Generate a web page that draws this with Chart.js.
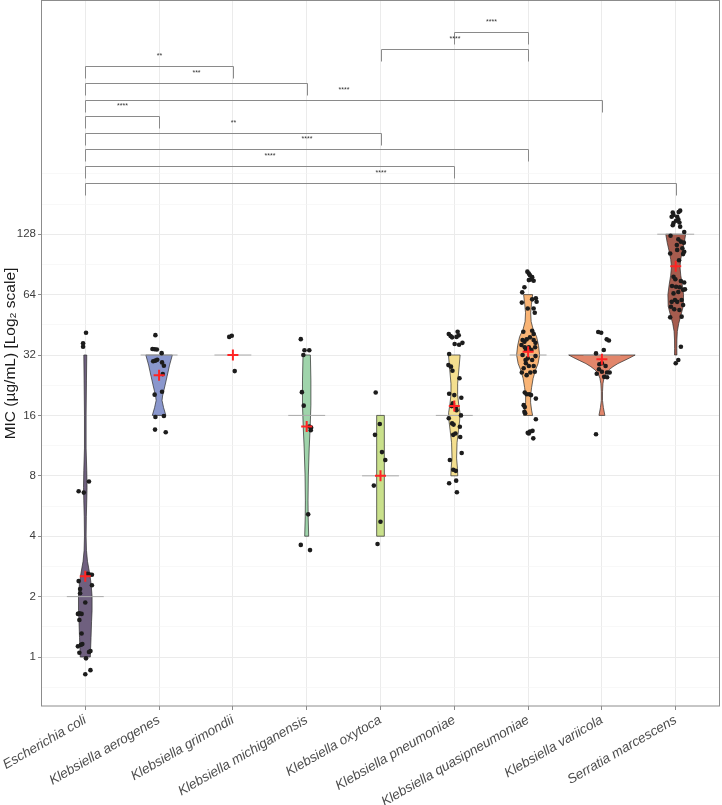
<!DOCTYPE html>
<html>
<head>
<meta charset="utf-8">
<script src="https://cdn.jsdelivr.net/npm/chart.js@4.4.0/dist/chart.umd.min.js"></script>
<style>
  html, body { margin: 0; padding: 0; background: #fff; }
  #wrap { width: 722px; height: 805px; }
</style>
</head>
<body>
<div id="wrap"><canvas id="mic" width="722" height="805"></canvas></div>
<script>
// categories and summary values
const species = ['Escherichia coli', 'Klebsiella aerogenes', 'Klebsiella grimondii', 'Klebsiella michiganensis',
  'Klebsiella oxytoca', 'Klebsiella pneumoniae', 'Klebsiella quasipneumoniae', 'Klebsiella variicola', 'Serratia marcescens'];
const medians = [2, 32, 32, 16, 8, 16, 32, 32, 128];
const means = [2.53, 25.4, 32, 14.1, 8.0, 17.8, 33.2, 30.5, 88.6];
const yTicks = [1, 2, 4, 8, 16, 32, 64, 128];
const violinColors = ['#6f607f', '#8a97cd', '#cccccc', '#9fd4ab', '#c9e08b', '#f4df8f', '#f9b475', '#e2866b', '#a65c4e'];

// isolates: [jitter (category units), MIC]
const ptsEcoli = [[0.01,41.3],[-0.03,36.6],[-0.03,35.2],[0.05,7.5],[-0.09,6.7],[-0.02,6.6],[0.03,2.6],[0.06,2.58],
  [0.09,2.57],[-0.09,2.39],[0.09,2.28],[-0.07,2.18],[-0.07,2.08],[0.0,1.87],[-0.10,1.64],[-0.08,1.65],[-0.05,1.64],
  [-0.08,1.53],[-0.05,1.31],[-0.04,1.16],[-0.06,1.15],[-0.10,1.13],[-0.08,1.05],[0.05,1.06],[0.07,1.07],[0.01,0.985],
  [0.07,0.86],[0.0,0.82]];
const ptsAerogenes = [[-0.05,40.2],[-0.09,34.3],[-0.06,34.2],[-0.03,34.1],[0.035,32.7],[-0.05,30],[-0.025,30.3],
  [-0.08,29.8],[0.04,29.4],[0.065,28.3],[0.05,25.7],[-0.06,20.3],[0.04,21],[-0.05,15.7],[0.065,15.9],[-0.055,13.6],[0.09,13.2]];
const ptsGrimondii = [[-0.05,39.4],[-0.015,39.9],[0.025,26.6]];
const ptsMichiganensis = [[-0.08,38.4],[-0.03,33.8],[0.035,33.8],[-0.045,32],[-0.065,20.9],[-0.04,17.9],[0.035,14.1],
  [0.06,13.9],[0.055,13.5],[0.02,5.14],[-0.08,3.62],[0.045,3.41]];
const ptsOxytoca = [[-0.065,20.8],[-0.01,14.5],[-0.075,12.8],[0.02,10.5],[0.065,9.6],[-0.09,7.15],[0,4.72],[-0.04,3.66]];
const ptsPneumoniae = [[-0.075,40.7],[-0.05,39.8],[-0.03,39.2],[0.045,41.8],[0.06,40.1],[0.03,39.4],[0.005,36.3],[0.065,36],
  [0.11,36.8],[-0.07,32.4],[-0.08,28.5],[-0.045,28],[-0.025,26.7],[0.07,24.5],[0.095,19.6],[0,20.2],[-0.02,18.4],[0.02,17.6],
  [0.09,16],[-0.075,15.5],[-0.03,14.6],[-0.01,14.4],[-0.015,12.8],[0.015,13],[0.075,14.05],[0.08,12.5],[0.1,10.4],[-0.06,9.6],
  [-0.015,8.57],[0.02,8.47],[-0.07,7.35],[0.025,7.57],[0.035,6.62],[-0.07,20.5],[-0.035,17.8],[0.03,17.0]];
const ptsQuasipneumoniae = [[-0.01,83.3],[0.01,81.6],[0.025,79.9],[0.055,78.2],[0.035,76.1],[0.075,75.1],[0.01,75.6],
  [-0.05,69.6],[-0.08,65.7],[-0.085,58.4],[0.055,60.6],[0.105,61.3],[0.115,59],[-0.005,54.6],[0.075,54.6],[0.09,52],
  [-0.065,41.8],[0.055,42.3],[0.075,40.7],[-0.075,38],[-0.05,37.3],[-0.02,38.3],[0.025,39.2],[0.075,38],[0.1,36.8],
  [-0.09,35.9],[-0.045,35],[-0.03,33.9],[0.01,35],[0.045,33.9],[0.095,35],[-0.075,32],[-0.005,30.8],[0.055,30.2],[0.1,31.6],
  [-0.03,29.1],[0.01,28.2],[-0.06,27.5],[0.03,26.2],[0.075,28.2],[-0.085,26.2],[-0.02,25.4],[0.09,26.4],[-0.035,30.2],
  [-0.045,20.8],[-0.02,20.4],[0.015,20.4],[0.04,20.2],[0.105,19.4],[-0.06,18],[-0.045,17.6],[-0.05,16.7],[-0.04,16.4],
  [0.105,15.3],[-0.005,13.1],[0.025,13.3],[0.06,13.4],[0.01,13.0],[0.07,12.3]];
const ptsVariicola = [[-0.05,41.7],[-0.01,41.3],[0.065,38.3],[0.095,37.8],[0.025,33.9],[-0.08,32.6],[-0.035,28.8],[0,29.1],
  [0.05,28.2],[-0.04,27.2],[-0.07,25.8],[0.105,26.2],[0.07,26.2],[0.03,24.9],[0.07,24.8],[-0.08,12.9],[0,26.4]];
const ptsSerratia = [[0.06,167.7],[0.04,165],[-0.04,164],[-0.03,159.6],[-0.055,156.5],[0.02,156.5],[0.035,152],[0.005,149.4],
  [-0.03,145.4],[0.05,146.3],[0.06,139.6],[-0.04,141.9],[0.115,131.3],[-0.07,125.8],[0.035,120.7],[0.07,117.5],[0.11,116.2],
  [0.015,113],[0.09,109],[0.115,104.7],[0.02,106.9],[-0.075,102.6],[0.1,101.9],[0.045,95],[-0.03,78.6],[-0.005,76.3],
  [0.07,74.8],[0.115,73.5],[-0.05,70.6],[0.005,70],[0.055,69.6],[0.1,67.6],[-0.03,64.9],[0.035,65.9],[0.125,68],[-0.01,60.2],
  [-0.055,58.9],[0.02,58.9],[0.08,60.2],[0.1,56.8],[-0.065,55.7],[0.05,53.6],[-0.02,54.1],[-0.075,49.3],[0.08,49.7],
  [0.07,35.2],[0.035,30.2],[0,29.1]];

// violin outlines: [MIC, half width (category units)], top to bottom
const violinEcoli = [[32,0.02],[24,0.016],[16,0.011],[11,0.011],[8.5,0.02],[7,0.024],[6,0.02],[5,0.014],[4,0.011],
  [3.4,0.016],[3,0.03],[2.6,0.06],[2.3,0.08],[2,0.092],[1.7,0.092],[1.5,0.085],[1.25,0.078],[1,0.068]];
const violinAerogenes = [[32,0.18],[28.5,0.142],[25,0.108],[22.6,0.081],[20,0.047],[19,0.04],[17.5,0.061],[16,0.092]];
const violinGrimondii = [];
const violinMichiganensis = [[32,0.05],[24,0.057],[18,0.057],[14,0.047],[11,0.034],[8,0.022],[6,0.018],[5,0.02],[4,0.027]];
const violinOxytoca = [[16,0.052],[4,0.052]];
const violinPneumoniae = [[32,0.079],[27.6,0.064],[23,0.045],[20.3,0.045],[18,0.061],[16.5,0.077],[15,0.072],[13.5,0.057],
  [11.7,0.037],[9.8,0.031],[8.7,0.043],[8,0.047]];
const violinQuasipneumoniae = [[64,0.061],[57,0.045],[52,0.035],[47,0.041],[43,0.068],[39.5,0.115],[35.6,0.142],[32,0.156],
  [29,0.135],[27,0.102],[24.5,0.068],[22,0.047],[20,0.034],[18.5,0.034],[17,0.047],[16,0.061]];
const violinVariicola = [[32,0.45],[31,0.38],[30,0.3],[29,0.217],[28,0.15],[27,0.095],[26,0.054],[24.5,0.027],[23,0.014],
  [21,0.008],[19,0.008],[17.5,0.02],[16,0.04]];
const violinSerratia = [[128,0.135],[116,0.115],[106,0.091],[96,0.068],[88,0.058],[80,0.068],[72,0.088],[64,0.106],[56,0.102],
  [50,0.068],[46,0.041],[42,0.022],[38,0.016],[34.5,0.015],[32,0.016]];

// significance brackets
const bracketFrom = [6, 5, 1, 1, 1, 1, 1, 1, 1, 1];
const bracketTo = [7, 7, 3, 4, 8, 2, 5, 7, 6, 9];
const bracketY = [1296, 1075, 885, 729, 600, 495, 410, 340, 280, 231];
const bracketLabel = ['****', '****', '**', '***', '****', '****', '**', '****', '****', '****'];

const pointSets = [ptsEcoli, ptsAerogenes, ptsGrimondii, ptsMichiganensis, ptsOxytoca, ptsPneumoniae,
  ptsQuasipneumoniae, ptsVariicola, ptsSerratia];
const violins = [violinEcoli, violinAerogenes, violinGrimondii, violinMichiganensis, violinOxytoca, violinPneumoniae,
  violinQuasipneumoniae, violinVariicola, violinSerratia];

const isolates = [];
pointSets.forEach((set, i) => set.forEach(([j, v]) => isolates.push({ x: i + 1 + j, y: v })));
const medianSegs = [];
medians.forEach((m, i) => {
  medianSegs.push({ x: i + 0.75, y: m }, { x: i + 1.25, y: m }, { x: i + 1.25, y: null });
});
// grid: majors plus half-steps on the log2 axis
const gridVals = [Math.SQRT1_2];
yTicks.forEach(t => gridVals.push(t, t * Math.SQRT2));
gridVals.push(256);
const isMajor = v => yTicks.includes(v);

const FONT = "'Liberation Sans', Arial, sans-serif";

const violinPlugin = {
  id: 'violins',
  beforeDatasetsDraw(chart) {
    const { ctx, chartArea, scales: { x, y } } = chart;
    ctx.save();
    ctx.beginPath();
    ctx.rect(chartArea.left, chartArea.top, chartArea.width, chartArea.height);
    ctx.clip();
    violins.forEach((profile, i) => {
      if (!profile.length) return;
      const c = i + 1;
      ctx.beginPath();
      profile.forEach(([v, w], k) => {
        const px = x.getPixelForValue(c + w), py = y.getPixelForValue(v);
        k ? ctx.lineTo(px, py) : ctx.moveTo(px, py);
      });
      for (let k = profile.length - 1; k >= 0; k--) {
        const [v, w] = profile[k];
        ctx.lineTo(x.getPixelForValue(c - w), y.getPixelForValue(v));
      }
      ctx.closePath();
      ctx.fillStyle = violinColors[i];
      ctx.fill();
      ctx.lineWidth = 0.7;
      ctx.strokeStyle = '#2b2b2b';
      ctx.stroke();
    });
    ctx.restore();
  }
};

const bracketPlugin = {
  id: 'brackets',
  afterDatasetsDraw(chart) {
    const { ctx, scales: { x, y } } = chart;
    ctx.save();
    ctx.strokeStyle = '#8a8a8a';
    ctx.lineWidth = 1;
    ctx.fillStyle = '#333';
    ctx.font = '7px ' + FONT;
    ctx.textAlign = 'center';
    ctx.textBaseline = 'middle';
    bracketFrom.forEach((a, k) => {
      const x1 = Math.round(x.getPixelForValue(a)) + 0.5;
      const x2 = Math.round(x.getPixelForValue(bracketTo[k])) + 0.5;
      const yy = Math.round(y.getPixelForValue(bracketY[k])) + 0.5;
      ctx.beginPath();
      ctx.moveTo(x1, yy + 12);
      ctx.lineTo(x1, yy);
      ctx.lineTo(x2, yy);
      ctx.lineTo(x2, yy + 12);
      ctx.stroke();
      ctx.fillText(bracketLabel[k], (x1 + x2) / 2, yy - 10);
    });
    ctx.restore();
  },
  afterDraw(chart) {
    const { ctx, chartArea: a } = chart;
    ctx.save();
    ctx.strokeStyle = '#8c8c8c';
    ctx.lineWidth = 1;
    ctx.strokeRect(Math.round(a.left) + 0.5, Math.round(a.top) - 0.5, Math.round(a.width) - 1, Math.round(a.height) + 0.5);
    ctx.restore();
  }
};

new Chart(document.getElementById('mic').getContext('2d'), {
  type: 'scatter',
  data: {
    datasets: [
      { label: 'Mean', data: means.map((m, i) => ({ x: i + 1, y: m })), pointStyle: 'cross', pointRadius: 5.5,
        borderColor: '#ff2424', borderWidth: 2, order: 0 },
      { label: 'Isolates', data: isolates, pointRadius: 2.3, backgroundColor: '#1c1c1c', borderWidth: 0, order: 1 },
      { label: 'Median', data: medianSegs, showLine: true, pointRadius: 0, borderColor: '#aaaaaa', borderWidth: 1,
        spanGaps: false, order: 2 }
    ]
  },
  options: {
    responsive: false,
    animation: false,
    events: [],
    layout: { autoPadding: false, padding: { left: 0, right: 2, top: 1, bottom: 0 } },
    plugins: { legend: { display: false }, tooltip: { enabled: false } },
    scales: {
      x: {
        type: 'linear', min: 0.4, max: 9.6,
        afterBuildTicks: s => { s.ticks = species.map((_, i) => ({ value: i + 1 })); },
        afterFit: s => { s.height = 99; s.paddingLeft = 0; s.paddingRight = 0; },
        ticks: {
          callback: v => species[v - 1] || '', autoSkip: false, minRotation: 30, maxRotation: 30,
          font: { family: FONT, size: 13.5, style: 'italic' }, color: '#4d4d4d', padding: 2
        },
        grid: { color: '#ebebeb', lineWidth: 1, tickColor: '#8c8c8c', tickLength: 4 },
        border: { display: false }
      },
      y: {
        type: 'logarithmic', min: 0.57, max: 1860,
        afterBuildTicks: s => { s.ticks = gridVals.map(v => ({ value: v })); },
        afterFit: s => { s.width = 41; s.paddingTop = 0; s.paddingBottom = 0; },
        ticks: {
          callback: v => isMajor(v) ? String(v) : '', autoSkip: false,
          font: { family: FONT, size: 11.5 }, color: '#3d3d3d', padding: 2
        },
        grid: {
          color: c => isMajor(c.tick.value) ? '#ebebeb' : '#f3f3f3',
          lineWidth: c => isMajor(c.tick.value) ? 1 : 0.6,
          tickColor: c => isMajor(c.tick.value) ? '#8c8c8c' : 'rgba(0,0,0,0)',
          tickLength: 3
        },
        border: { display: false },
        title: {
          display: true, text: 'MIC (µg/mL) [Log₂ scale]', color: '#1a1a1a',
          font: { family: FONT, size: 15.5 }, padding: { top: 1, bottom: 0 }
        }
      }
    }
  },
  plugins: [violinPlugin, bracketPlugin]
});
</script>
</body>
</html>
